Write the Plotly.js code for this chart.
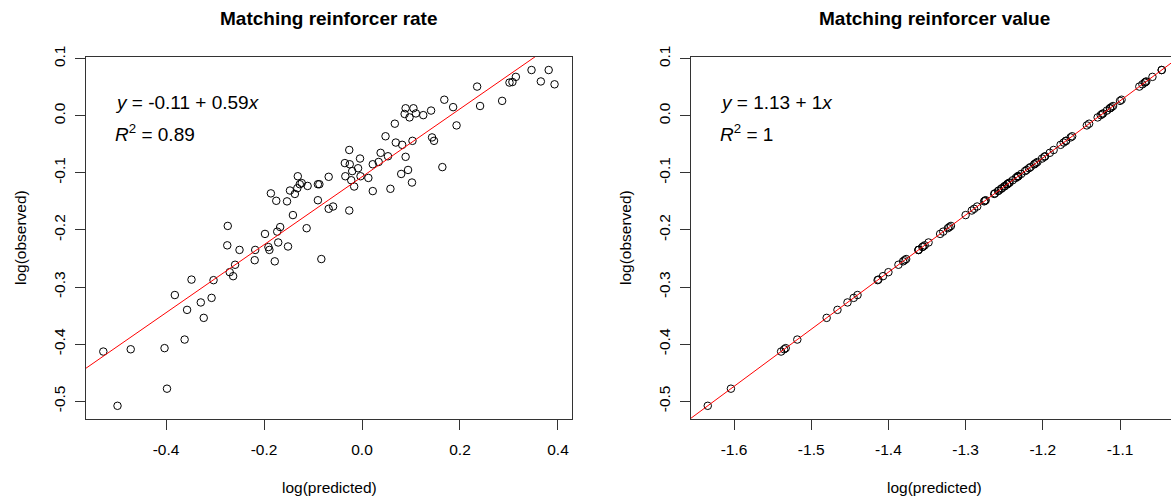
<!DOCTYPE html>
<html>
<head>
<meta charset="utf-8">
<script src="https://cdn.plot.ly/plotly-3.0.1.min.js"></script>
<style>
html,body{margin:0;padding:0;overflow:hidden;background:#fff;}
#chart{width:1190px;height:497px;}
</style>
</head>
<body>
<div id="chart"></div>
<script>
// ---- data ----
const ratePredicted = [0.168,0.186,0.193,0.089,0.105,0.087,0.097,0.110,0.125,0.141,
  0.067,0.048,0.069,0.082,0.103,0.143,0.147,0.038,0.053,0.089,
  0.034,0.022,0.094,0.080,0.164,0.102,0.058,0.022,-0.026,-0.004,
  -0.035,-0.025,-0.008,-0.020,-0.034,-0.003,0.013,-0.022,-0.016,-0.026,
  -0.068,-0.090,-0.087,-0.111,-0.131,-0.127,-0.123,-0.132,-0.147,-0.137,
  -0.186,-0.175,-0.153,-0.090,-0.068,-0.059,-0.141,-0.113,-0.167,-0.173,
  -0.198,-0.274,-0.275,-0.250,-0.218,-0.191,-0.189,-0.171,-0.151,-0.219,
  -0.178,-0.083,-0.259,-0.270,-0.263,-0.303,-0.348,-0.382,-0.329,-0.307,
  -0.357,-0.323,-0.362,-0.528,-0.472,-0.403,-0.398,-0.499,0.346,0.381,
  0.365,0.393,0.314,0.307,0.301,0.235,0.286,0.241];
const observed = [0.028,0.015,-0.017,0.013,0.013,0.003,-0.003,0.004,0.001,0.009,
  -0.014,-0.036,-0.047,-0.051,-0.044,-0.038,-0.044,-0.065,-0.071,-0.072,
  -0.081,-0.085,-0.095,-0.102,-0.090,-0.117,-0.128,-0.132,-0.060,-0.075,
  -0.083,-0.085,-0.092,-0.097,-0.106,-0.106,-0.109,-0.113,-0.124,-0.166,
  -0.107,-0.120,-0.120,-0.123,-0.106,-0.120,-0.118,-0.127,-0.131,-0.137,
  -0.136,-0.149,-0.150,-0.148,-0.163,-0.159,-0.174,-0.197,-0.195,-0.203,
  -0.207,-0.193,-0.227,-0.235,-0.235,-0.230,-0.235,-0.222,-0.229,-0.253,
  -0.255,-0.251,-0.261,-0.274,-0.281,-0.288,-0.287,-0.314,-0.327,-0.319,
  -0.340,-0.354,-0.392,-0.413,-0.409,-0.407,-0.478,-0.508,0.080,0.080,
  0.060,0.055,0.068,0.059,0.058,0.051,0.026,0.017];
const valuePredicted = [-1.098,-1.111,-1.143,-1.113,-1.113,-1.123,-1.129,-1.122,-1.125,-1.117,
  -1.140,-1.162,-1.173,-1.177,-1.170,-1.164,-1.170,-1.191,-1.197,-1.198,
  -1.207,-1.211,-1.221,-1.228,-1.216,-1.243,-1.254,-1.258,-1.186,-1.201,
  -1.209,-1.211,-1.218,-1.223,-1.232,-1.232,-1.235,-1.239,-1.250,-1.292,
  -1.233,-1.246,-1.246,-1.249,-1.232,-1.246,-1.244,-1.253,-1.257,-1.263,
  -1.262,-1.275,-1.276,-1.274,-1.289,-1.285,-1.300,-1.323,-1.321,-1.329,
  -1.333,-1.319,-1.353,-1.361,-1.361,-1.356,-1.361,-1.348,-1.355,-1.379,
  -1.381,-1.377,-1.387,-1.400,-1.407,-1.414,-1.413,-1.440,-1.453,-1.445,
  -1.466,-1.480,-1.518,-1.539,-1.535,-1.533,-1.604,-1.634,-1.046,-1.046,
  -1.066,-1.071,-1.058,-1.067,-1.068,-1.075,-1.100,-1.109];
const rateFit = {intercept: -0.107, slope: 0.595};
const valueFit = {intercept: 1.126, slope: 1.0};
const rateXTicks = [-0.4,-0.2,0.0,0.2,0.4];
const rateXTickText = ["-0.4","-0.2","0.0","0.2","0.4"];
const valueXTicks = [-1.6,-1.5,-1.4,-1.3,-1.2,-1.1];
const valueXTickText = ["-1.6","-1.5","-1.4","-1.3","-1.2","-1.1"];
const yTicks = [0.1,0.0,-0.1,-0.2,-0.3,-0.4,-0.5];
const yTickText = ["0.1","0.0","-0.1","-0.2","-0.3","-0.4","-0.5"];
const titles = ["Matching reinforcer rate","Matching reinforcer value"];
const eqText = ["<i>y</i> = -0.11 + 0.59<i>x</i>","<i>y</i> = 1.13 + 1<i>x</i>"];
const r2Text = ["<i>R</i><sup>2</sup> = 0.89","<i>R</i><sup>2</sup> = 1"];

// ---- layout geometry ----
const W = 1190, H = 497;
const PX = x => x / W, PY = y => 1 - y / H;
const FONT = "Liberation Sans, Arial, sans-serif";
const rateXRange = [-0.5633, 0.4286];
const valueXRange = [-1.6557, -1.0262];
const yRange = [-0.5311, 0.1028];

function lineXY(fit, range){
  return {x:[range[0], range[1]], y:[fit.intercept + fit.slope*range[0], fit.intercept + fit.slope*range[1]]};
}
const rl = lineXY(rateFit, rateXRange), vl = lineXY(valueFit, valueXRange);
const marker = {symbol:'circle-open', size:7.5, color:'#000', line:{width:1, color:'#000'}};

const traces = [
  {x: ratePredicted, y: observed, type:'scatter', mode:'markers', marker, xaxis:'x', yaxis:'y', hoverinfo:'x+y'},
  {x: rl.x, y: rl.y, type:'scatter', mode:'lines', line:{color:'#ff0000', width:1}, xaxis:'x', yaxis:'y'},
  {x: valuePredicted, y: observed, type:'scatter', mode:'markers', marker, xaxis:'x2', yaxis:'y2'},
  {x: vl.x, y: vl.y, type:'scatter', mode:'lines', line:{color:'#ff0000', width:1}, xaxis:'x2', yaxis:'y2'}
];

const axBase = {
  showline:true, mirror:true, linecolor:'#333', linewidth:1,
  ticks:'outside', ticklen:10, tickwidth:1, tickcolor:'#333',
  showgrid:false, zeroline:false, tickmode:'array',
  tickfont:{family:FONT, size:15.5, color:'#000'}, fixedrange:true
};
const xDom1 = [PX(86), PX(572)], xDom2 = [PX(691), PX(1177)];
const yDom = [PY(419), PY(57)];

const layout = {
  width:W, height:H, margin:{l:0,r:0,t:0,b:0}, showlegend:false,
  paper_bgcolor:'#fff', plot_bgcolor:'#fff',
  xaxis: Object.assign({}, axBase, {domain:xDom1, range:rateXRange, tickvals:rateXTicks, ticktext:rateXTickText, anchor:'y', ticklabelstandoff:6}),
  yaxis: Object.assign({}, axBase, {domain:yDom, range:yRange, tickvals:yTicks, ticktext:yTickText, anchor:'x', tickangle:-90, ticklabelstandoff:4}),
  xaxis2: Object.assign({}, axBase, {domain:xDom2, range:valueXRange, tickvals:valueXTicks, ticktext:valueXTickText, anchor:'y2', ticklabelstandoff:6}),
  yaxis2: Object.assign({}, axBase, {domain:yDom, range:yRange, tickvals:yTicks, ticktext:yTickText, anchor:'x2', tickangle:-90, ticklabelstandoff:4}),
  annotations: []
};
const centers = [(86+572)/2, (691+1177)/2];
const lefts = [86, 691];
for (let i=0;i<2;i++){
  layout.annotations.push({text:'<b>'+titles[i]+'</b>', xref:'paper', yref:'paper', x:PX(centers[i]), y:PY(18), xanchor:'center', yanchor:'middle', showarrow:false, font:{family:FONT, size:19, color:'#000'}});
  layout.annotations.push({text:'log(predicted)', xref:'paper', yref:'paper', x:PX(centers[i]), y:PY(487), xanchor:'center', yanchor:'middle', showarrow:false, font:{family:FONT, size:15.5, color:'#000'}});
  layout.annotations.push({text:'log(observed)', xref:'paper', yref:'paper', x:PX(lefts[i]-66), y:PY(238), xanchor:'center', yanchor:'middle', textangle:-90, showarrow:false, font:{family:FONT, size:15.5, color:'#000'}});
  layout.annotations.push({text:eqText[i], xref:'paper', yref:'paper', x:PX(lefts[i]+27), y:PY(102), xanchor:'left', yanchor:'middle', showarrow:false, font:{family:FONT, size:19, color:'#000'}});
  layout.annotations.push({text:r2Text[i], xref:'paper', yref:'paper', x:PX(lefts[i]+27), y:PY(133), xanchor:'left', yanchor:'middle', showarrow:false, font:{family:FONT, size:19, color:'#000'}});
}
Plotly.newPlot('chart', traces, layout, {displayModeBar:false, staticPlot:true});
</script>
</body>
</html>
